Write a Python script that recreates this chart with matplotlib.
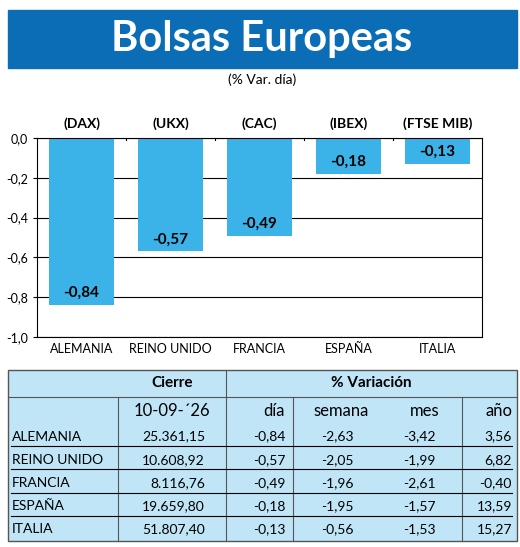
import matplotlib
matplotlib.use("Agg")
import matplotlib.pyplot as plt
from matplotlib.patches import Rectangle

countries = ["ALEMANIA", "REINO UNIDO", "FRANCIA", "ESPAÑA", "ITALIA"]
indices = ["(DAX)", "(UKX)", "(CAC)", "(IBEX)", "(FTSE MIB)"]
var_dia = [-0.84, -0.57, -0.49, -0.18, -0.13]
cierre = ["25.361,15", "10.608,92", "8.116,76", "19.659,80", "51.807,40"]
dia = ["-0,84", "-0,57", "-0,49", "-0,18", "-0,13"]
semana = ["-2,63", "-2,05", "-1,96", "-1,95", "-0,56"]
mes = ["-3,42", "-1,99", "-2,61", "-1,57", "-1,53"]
anio = ["3,56", "6,82", "-0,40", "13,59", "15,27"]
yticks = [0.0, -0.2, -0.4, -0.6, -0.8, -1.0]

W, H = 520, 547
fig = plt.figure(figsize=(W/100, H/100), dpi=100)
plt.rcParams['font.family'] = ['Lato', 'DejaVu Sans']
bg = fig.add_axes([0, 0, 1, 1])
bg.set_xlim(0, W); bg.set_ylim(H, 0); bg.axis('off')

# title band
bg.add_patch(Rectangle((8, 10), 509, 58, color='#0b6db5'))
bg.text(262, 39, "Bolsas Europeas", color='white', fontsize=30, fontweight='bold', ha='center', va='center')
bg.text(262, 80, "(% Var. día)", fontsize=10, ha='center', va='center')

# chart
ax = fig.add_axes([37/W, 1-337/H, (482-37)/W, (337-138)/H])
x = list(range(len(countries)))
ax.bar(x, var_dia, width=0.72, color='#3bb3e8', zorder=2)
ax.set_ylim(-1.0, 0.0)
ax.set_xlim(-0.5, 4.5)
ax.set_yticks(yticks)
ax.set_yticklabels([f"{v:.1f}".replace('.', ',') for v in yticks], fontsize=9)
ax.grid(axis='y', color='black', linewidth=0.8, zorder=1)
for b in [0.5, 1.5, 2.5, 3.5]:
    ax.plot([b, b], [0, -0.012], color='black', lw=0.8, clip_on=False)
ax.set_xticks(x)
ax.set_xticklabels(countries, fontsize=9)
ax.tick_params(axis='x', length=0, pad=4)
ax.tick_params(axis='y', length=3)
for i, v in enumerate(var_dia):
    ax.text(i, v + 0.025, f"{v:.2f}".replace('.', ','), ha='center', va='bottom',
            fontsize=11, fontweight='bold', zorder=3)
    ax.text(i, 0.04, indices[i], ha='center', va='bottom', fontsize=10, fontweight='bold')
for s in ax.spines.values():
    s.set_linewidth(0.8)

# table
tx0, tx1, ty0, ty1 = 8, 517, 370, 541
bg.add_patch(Rectangle((tx0, ty0), tx1-tx0, ty1-ty0, facecolor='#bfe5f7', edgecolor='#555555', lw=1))
cols = [8, 118, 226, 293, 390, 462, 517]
r0, r1 = 397, 425
rh = (ty1 - r1) / 5
bg.plot([tx0, tx1], [r0, r0], color='#555555', lw=0.8)
bg.plot([226, 226], [ty0, ty1], color='#555555', lw=0.8)
for c in [118, 293, 462]:
    bg.plot([c, c], [r0, ty1], color='#555555', lw=0.8)
bg.text(172, 383, "Cierre", fontsize=11, fontweight='bold', ha='center', va='center')
bg.text(371, 383, "% Variación", fontsize=11, fontweight='bold', ha='center', va='center')
hdrs = ["10-09-´26", "día", "semana", "mes", "año"]
hx = [172, 285, 341, 425, 512]
hha = ['center', 'right', 'center', 'center', 'right']
for t, xx, ha in zip(hdrs, hx, hha):
    bg.text(xx, 411, t, fontsize=12, ha=ha, va='center')
for i in range(5):
    yc = r1 + rh*(i+0.5)
    ybot = r1 + rh*(i+1) - 2
    if i < 4:
        bg.plot([tx0+3, tx1-5], [ybot, ybot], color='black', lw=0.8)
    bg.text(12, yc, countries[i], fontsize=10, ha='left', va='center')
    bg.text(205, yc, cierre[i], fontsize=10, ha='right', va='center')
    bg.text(285, yc, dia[i], fontsize=10, ha='right', va='center')
    bg.text(354, yc, semana[i], fontsize=10, ha='right', va='center')
    bg.text(436, yc, mes[i], fontsize=10, ha='right', va='center')
    bg.text(512, yc, anio[i], fontsize=10, ha='right', va='center')

fig.savefig("out.png", dpi=100)
